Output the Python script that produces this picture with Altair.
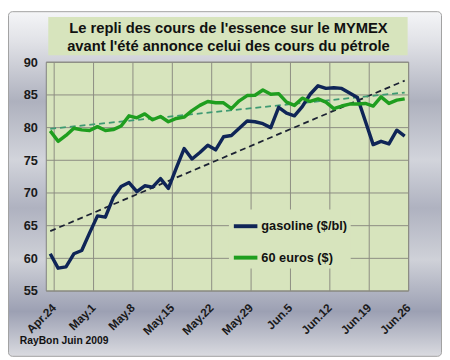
import altair as alt
import pandas as pd

# ---- data ----
series_names = ["gasoline ($/bl)", "60 euros ($)"]
gasoline = [60.7, 58.5, 58.7, 60.7, 61.2, 63.9, 66.5, 66.3, 69.3, 71.0,
            71.6, 70.2, 71.1, 70.9, 72.2, 70.7, 73.8, 76.8, 75.2, 76.2,
            77.3, 76.6, 78.6, 78.8, 79.9, 81.0, 80.9, 80.6, 80.0, 83.1,
            82.2, 81.8, 83.2, 85.1, 86.4, 86.0, 86.1, 86.0, 85.3, 84.6,
            81.0, 77.4, 77.9, 77.5, 79.6, 78.7]
euros60 = [79.5, 77.9, 78.8, 79.9, 79.65, 79.55, 80.15, 79.55, 79.7, 80.25,
           81.8, 81.5, 82.1, 81.2, 81.7, 80.9, 81.4, 81.6, 82.6, 83.4,
           84.0, 83.8, 83.8, 82.9, 84.1, 84.9, 84.95, 85.75, 85.1, 85.2,
           83.9, 83.4, 84.5, 84.0, 84.4, 83.9, 82.9, 83.3, 83.6, 83.6,
           83.7, 83.3, 84.7, 83.7, 84.2, 84.4]
x_tick_labels = ["Apr.24", "May.1", "May.8", "May.15", "May.22", "May.29",
                 "Jun.5", "Jun.12", "Jun.19", "Jun.26"]
x_tick_pos = [0.5, 5.5, 10.5, 15.5, 20.5, 25.5, 30.5, 35.5, 40.5, 45.5]
y_ticks = [55, 60, 65, 70, 75, 80, 85, 90]
title_lines = ["Le repli des cours de l'essence sur le MYMEX",
               "avant  l'\u00e9t\u00e9  annonce celui des cours du p\u00e9trole"]
footer = "RayBon Juin  2009"

# ---- styles ----
NAVY = "#0F2557"
GREEN = "#1F9E1F"
PLOT_BG = "#D7E4BD"
GRID = "#8C8C82"
FONT = "Liberation Sans"
W, H = 369, 233
PAD = {"left": 39, "top": 52, "right": 34, "bottom": 67}

n = len(gasoline)
df = pd.DataFrame({
    "x": list(range(n)) * 2,
    "value": gasoline + euros60,
    "series": [series_names[0]] * n + [series_names[1]] * n,
})
ticks_df = pd.DataFrame({"x": x_tick_pos, "label": x_tick_labels})
one = pd.DataFrame({"k": [0]})

xscale = alt.Scale(domain=[-0.5, n - 0.5], nice=False, zero=False)
yscale = alt.Scale(domain=[55, 90], nice=False, zero=False)

xaxis = alt.Axis(values=x_tick_pos, title=None, labels=False,
                 ticks=False, domain=False, grid=False, zindex=1)
yaxis = alt.Axis(values=y_ticks, title=None, labelFontSize=13, labelFontWeight="bold",
                 labelColor="#1A1A1A", labelFont=FONT, labelPadding=9,
                 ticks=False, domain=False, grid=False, zindex=1,
                 labelOverlap=False, labelFlush=False, labelBound=False)

gradient = alt.LinearGradient(
    gradient="linear", x1=0, y1=0, x2=0, y2=1,
    stops=[
        alt.GradientStop(offset=0.0, color="#F4F5F7"),
        alt.GradientStop(offset=0.09, color="#E0E1E6"),
        alt.GradientStop(offset=0.26, color="#AEB1BE"),
        alt.GradientStop(offset=0.43, color="#D2D4DB"),
        alt.GradientStop(offset=0.57, color="#AFB2C0"),
        alt.GradientStop(offset=0.72, color="#CFD1D8"),
        alt.GradientStop(offset=0.87, color="#9CA0B3"),
        alt.GradientStop(offset=1.0, color="#DADBE0"),
    ],
)

bg = alt.Chart(one).mark_rect(fill=gradient, stroke="#A0A0A0", strokeWidth=1,
                              cornerRadius=4).encode(
    x=alt.value(-PAD["left"] + 0.5), x2=alt.value(W + PAD["right"] - 0.5),
    y=alt.value(-PAD["top"] + 0.5), y2=alt.value(H + PAD["bottom"] - 0.5))

title_box = alt.Chart(one).mark_rect(fill=PLOT_BG).encode(
    x=alt.value(2), x2=alt.value(368), y=alt.value(-46), y2=alt.value(-7))

plot_bg = alt.Chart(one).mark_rect(fill=PLOT_BG, stroke="#7F7F7F", strokeWidth=1).encode(
    x=alt.value(0), x2=alt.value(W), y=alt.value(0), y2=alt.value(H))

grid_y = alt.Chart(pd.DataFrame({"value": y_ticks})).mark_rule(
    color=GRID, strokeWidth=1).encode(
    y=alt.Y("value:Q", scale=yscale, axis=yaxis))

grid_x = alt.Chart(ticks_df).mark_rule(
    color=GRID, strokeWidth=1).encode(
    x=alt.X("x:Q", scale=xscale, axis=xaxis))

x_labels = alt.Chart(ticks_df).mark_text(
    angle=315, align="right", baseline="middle", font=FONT, fontSize=12,
    fontWeight="bold", color="#1A1A1A").encode(
    x=alt.X("x:Q", scale=xscale, axis=xaxis),
    y=alt.value(H + 15),
    text="label:N")

trend_gas = alt.Chart(df).transform_filter(
    alt.datum.series == series_names[0]
).transform_regression("x", "value").mark_line(
    color="#1C2233", strokeWidth=1.8, strokeDash=[6, 4]).encode(
    x=alt.X("x:Q", scale=xscale, axis=xaxis),
    y=alt.Y("value:Q", scale=yscale, axis=yaxis))

trend_eur = alt.Chart(df).transform_filter(
    alt.datum.series == series_names[1]
).transform_regression("x", "value").mark_line(
    color="#3E9A72", strokeWidth=1.8, strokeDash=[6, 4]).encode(
    x=alt.X("x:Q", scale=xscale, axis=xaxis),
    y=alt.Y("value:Q", scale=yscale, axis=yaxis))

lines = alt.Chart(df).mark_line(strokeWidth=3.5, strokeJoin="round").encode(
    x=alt.X("x:Q", scale=xscale, axis=xaxis),
    y=alt.Y("value:Q", scale=yscale, axis=yaxis),
    color=alt.Color("series:N",
                    scale=alt.Scale(domain=series_names, range=[NAVY, GREEN]),
                    legend=alt.Legend(title=None, orient="none", legendX=186,
                                      legendY=150, fillColor=PLOT_BG, padding=3,
                                      symbolType="stroke", symbolStrokeWidth=4,
                                      symbolSize=576, labelFontSize=13,
                                      labelFontWeight="bold", labelColor="#111111",
                                      labelFont=FONT, rowPadding=10, zindex=1,
                                      labelOffset=2)),
)

t1 = alt.Chart(one).mark_text(text=title_lines[0], font=FONT, fontSize=15,
                              fontWeight="bold", color="#111111",
                              align="center", baseline="middle").encode(
    x=alt.value(W / 2 + 1), y=alt.value(-35))
t2 = alt.Chart(one).mark_text(text=title_lines[1], font=FONT, fontSize=15,
                              fontWeight="bold", color="#111111",
                              align="center", baseline="middle").encode(
    x=alt.value(W / 2 + 1), y=alt.value(-16.5))
foot = alt.Chart(one).mark_text(text=footer, font=FONT, fontSize=10.5,
                                fontWeight="bold", color="#111111",
                                align="left", baseline="middle").encode(
    x=alt.value(-27), y=alt.value(284))

chart = alt.layer(bg, title_box, plot_bg, grid_y, grid_x, trend_gas, trend_eur,
                  lines, x_labels, t1, t2, foot).properties(
    width=W, height=H, padding=PAD,
    autosize=alt.AutoSizeParams(type="none"),
).configure_view(stroke=None).configure(background="white")

chart.save("out.html", embed_options={"renderer": "svg", "actions": False})
